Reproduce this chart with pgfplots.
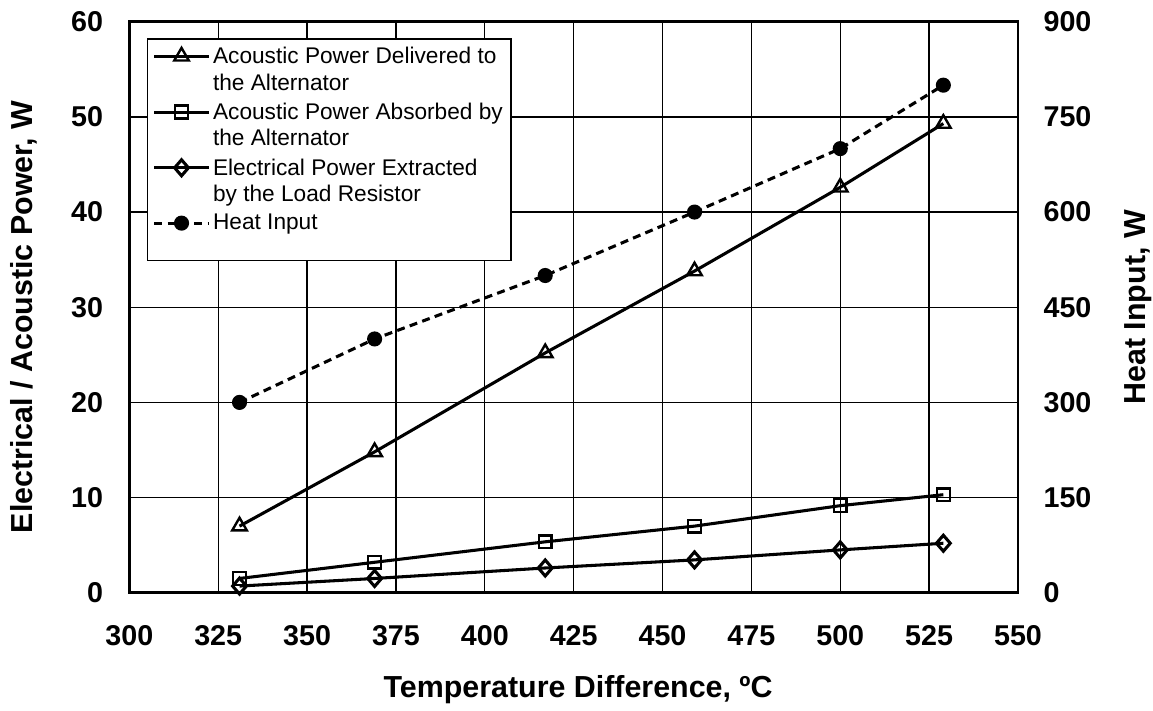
\documentclass[border=0pt]{standalone}
\usepackage{fontspec}
\setmainfont{Liberation Sans}
\usepackage{pgfplots}
\pgfplotsset{compat=1.18}
\tikzset{lab/.style={font=\bfseries\fontsize{22.8}{27}\selectfont}}
\begin{document}
\begin{tikzpicture}
\pgfplotsset{
  every axis/.append style={
    scale only axis, width=666.5pt, height=428.25pt,
    xmin=300, xmax=550,
    /pgf/number format/assume math mode=true,
    tick label style={font=\bfseries\fontsize{21.5}{25}\selectfont, inner sep=0pt},
    major tick length=0pt,
    axis line style={line width=2.2pt},
  },
  ser/.style={black, line width=2.3pt, mark options={solid, fill=white, line width=1.8pt}},
}
\begin{axis}[
  ymin=0, ymax=60, ytick={0,10,...,60},
  xtick={300,325,350,375,400,425,450,475,500,525,550},
  grid=major, grid style={line width=1pt, black},
  yticklabel shift=19.5pt,
  xticklabel shift=24pt,
  xticklabel style={text height=15.5pt, anchor=north},
  xlabel={Temperature Difference, ºC},
  ylabel={Electrical / Acoustic Power, W},
  every axis x label/.style={at={(axis description cs:0.505,-0.1705)}, anchor=center, lab},
  every axis y label/.style={at={(axis description cs:-0.1185,0.483)}, anchor=center, rotate=90, lab},
  legend style={at={(0,1)}, anchor=north west, xshift=13pt, yshift=-12.5pt,
    draw=black, line width=1pt, fill=white,
    font=\fontsize{17}{20}\selectfont, cells={align=left},
    inner xsep=4pt, inner ysep=4pt, row sep=4pt},
  legend cell align=left,
  legend image code/.code={\draw[mark repeat=2,mark phase=2] plot coordinates {(0pt,0pt)(20.5pt,0pt)(41pt,0pt)};},
]
\coordinate (sw) at (rel axis cs:0,0);
\coordinate (ne) at (rel axis cs:1,1);
\addplot[ser, mark=triangle, mark size=6.3pt, legend image post style={yshift=10pt}] coordinates {
  (331,7.0) (369,14.8) (417,25.2) (459,33.8) (500,42.6) (529,49.3)};
\addlegendentry{Acoustic Power Delivered to\\the Alternator}
\addplot[ser, mark=square, mark size=4.8pt, legend image post style={yshift=10pt}] coordinates {
  (331,1.5) (369,3.2) (417,5.35) (459,7.0) (500,9.15) (529,10.3)};
\addlegendentry{Acoustic Power Absorbed by\\the Alternator}
\addplot[ser, mark=diamond, mark size=6pt, mark options={xscale=1.15}, legend image post style={yshift=10pt}] coordinates {
  (331,0.7) (369,1.5) (417,2.6) (459,3.45) (500,4.5) (529,5.2)};
\addlegendentry{Electrical Power Extracted\\by the Load Resistor}
\addlegendimage{black, line width=2.3pt, dash pattern=on 6pt off 4pt, mark=*, mark size=4.5pt, mark options={solid, fill=black}}
\addlegendentry{Heat Input}
\addlegendimage{empty legend}
\addlegendentry{\rule{0pt}{6pt}}
\end{axis}
\begin{axis}[
  ymin=0, ymax=900, ytick={0,150,...,900},
  axis x line=none, axis y line*=right,
  yticklabel style={anchor=west},
  yticklabel shift=19pt,
  ylabel={Heat Input, W},
  every axis y label/.style={at={(axis description cs:1.135,0.5)}, anchor=center, rotate=90, lab},
]
\addplot[black, line width=2.3pt, dash pattern=on 6pt off 4pt, mark=*, mark size=4.5pt, mark options={solid, fill=black}] coordinates {
  (331,300) (369,400) (417,500) (459,600) (500,700) (529,800)};
\end{axis}
\pgfresetboundingbox
\path[use as bounding box] ([xshift=-97pt,yshift=-88pt]sw) rectangle ([xshift=101.25pt,yshift=16.3pt]ne);
\end{tikzpicture}
\end{document}
